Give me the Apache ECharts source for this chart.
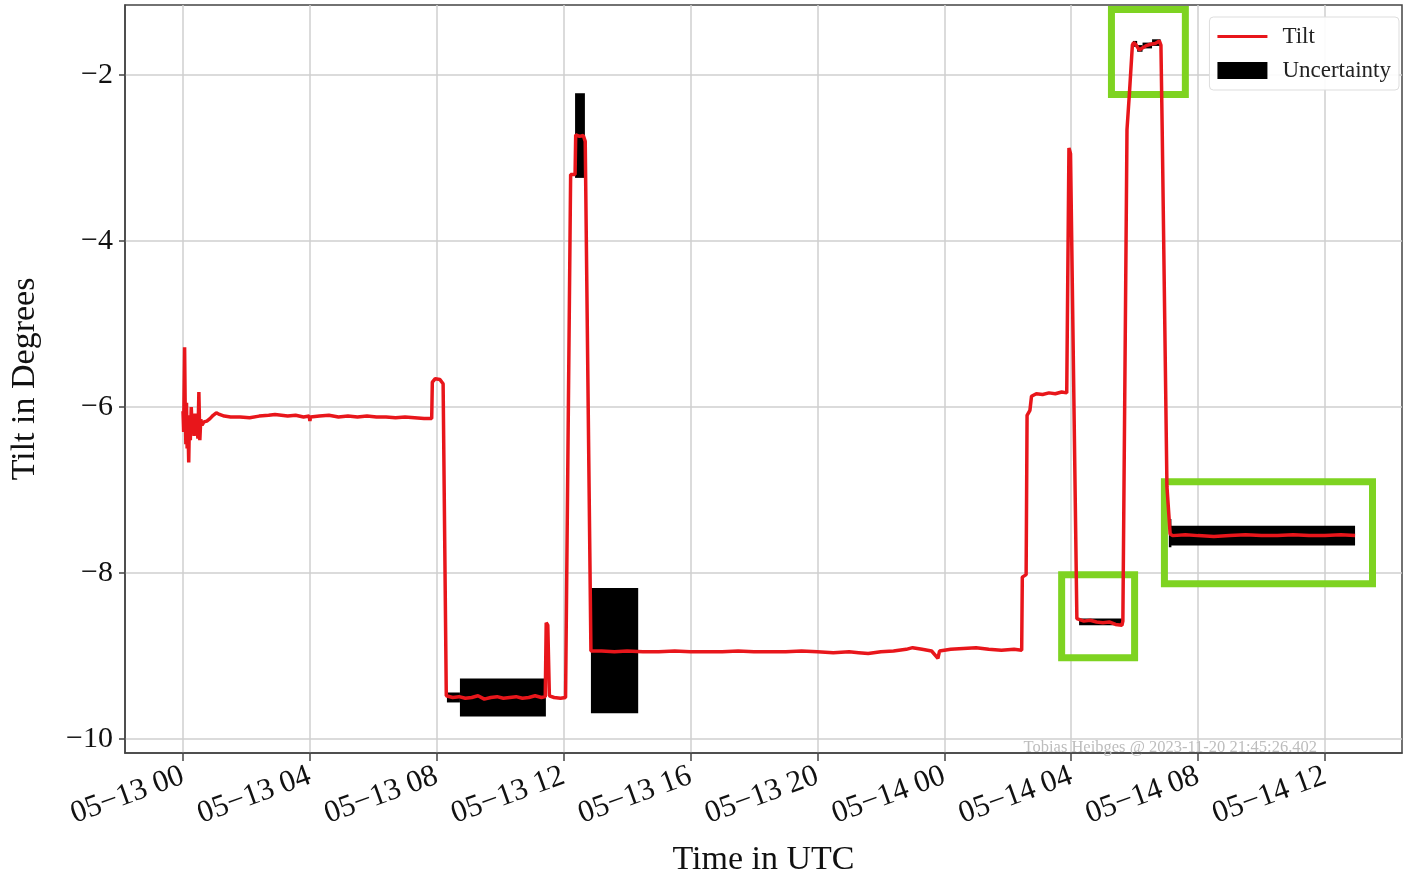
<!DOCTYPE html>
<html>
<head>
<meta charset="utf-8">
<script src="https://cdn.jsdelivr.net/npm/echarts@6/dist/echarts.min.js"></script>
<style>
  html, body { margin: 0; padding: 0; background: #fff; }
  #chart { width: 1404px; height: 877px; }
</style>
</head>
<body>
<div id="chart"></div>
<script>
// hours since 05-13 00:00 UTC
const xTicks = [0, 4, 8, 12, 16, 20, 24, 28, 32, 36];
const yTicks = [-10, -8, -6, -4, -2];

const tiltHours = [
  0.00, 0.02, 0.05, 0.07, 0.09, 0.11, 0.13, 0.15, 0.18, 0.20,
  0.23, 0.26, 0.29, 0.32, 0.35, 0.38, 0.41, 0.44, 0.47, 0.50,
  0.53, 0.56, 0.60, 0.66, 0.75, 0.85, 0.95, 1.05, 1.15, 1.30,
  1.50, 1.80, 2.10, 2.40, 2.70, 2.90, 3.10, 3.30, 3.55, 3.80,
  3.98, 4.00, 4.02, 4.30, 4.60, 4.90, 5.20, 5.50, 5.80, 6.10,
  6.40, 6.70, 7.00, 7.30, 7.60, 7.84, 7.86, 7.95, 8.10, 8.20,
  8.30, 8.50, 8.70, 8.90, 9.10, 9.30, 9.50, 9.70, 9.90, 10.10,
  10.30, 10.50, 10.70, 10.90, 11.10, 11.30, 11.42, 11.45, 11.50, 11.55,
  11.70, 11.90, 12.06, 12.22, 12.36, 12.38, 12.50, 12.62, 12.68, 12.86,
  13.20, 13.60, 14.00, 14.50, 15.00, 15.50, 16.00, 16.50, 17.00, 17.50,
  18.00, 18.50, 19.00, 19.50, 20.00, 20.50, 21.00, 21.30, 21.60, 22.00,
  22.40, 22.80, 23.00, 23.30, 23.60, 23.80, 23.85, 24.20, 24.60, 25.00,
  25.40, 25.80, 26.20, 26.44, 26.46, 26.58, 26.61, 26.70, 26.75, 26.90,
  27.10, 27.30, 27.50, 27.70, 27.86, 27.93, 27.98, 28.18, 28.40, 28.60,
  28.80, 29.00, 29.20, 29.40, 29.60, 29.63, 29.76, 29.84, 29.93, 29.97,
  30.05, 30.15, 30.22, 30.35, 30.50, 30.65, 30.78, 30.83, 30.87, 31.02,
  31.12, 31.20, 31.60, 32.00, 32.50, 33.00, 33.50, 34.00, 34.50, 35.00,
  35.50, 36.00, 36.50, 36.95
];
const tiltValues = [
  -6.05, -6.30, -5.28, -6.05, -6.45, -5.95, -6.50, -6.10, -6.67, -6.20,
  -6.40, -6.00, -6.30, -6.15, -6.35, -6.08, -6.30, -6.22, -6.38, -5.82,
  -6.40, -6.15, -6.22, -6.18, -6.17, -6.14, -6.10, -6.07, -6.09, -6.11,
  -6.12, -6.12, -6.13, -6.11, -6.10, -6.09, -6.10, -6.11, -6.10, -6.12,
  -6.11, -6.17, -6.12, -6.11, -6.10, -6.12, -6.11, -6.12, -6.11, -6.12,
  -6.12, -6.13, -6.12, -6.13, -6.14, -6.14, -5.70, -5.66, -5.67, -5.72,
  -9.48, -9.50, -9.49, -9.51, -9.50, -9.48, -9.52, -9.50, -9.49, -9.51,
  -9.50, -9.49, -9.51, -9.50, -9.48, -9.50, -9.49, -8.60, -8.63, -9.48,
  -9.50, -9.51, -9.50, -3.20, -3.20, -2.72, -2.74, -2.73, -2.80, -8.94,
  -8.94, -8.95, -8.94, -8.95, -8.95, -8.94, -8.95, -8.95, -8.95, -8.94,
  -8.95, -8.95, -8.95, -8.94, -8.95, -8.96, -8.95, -8.96, -8.97, -8.95,
  -8.94, -8.92, -8.90, -8.92, -8.94, -9.03, -8.94, -8.92, -8.91, -8.90,
  -8.92, -8.93, -8.92, -8.93, -8.05, -8.02, -6.10, -6.04, -5.87, -5.84,
  -5.85, -5.83, -5.84, -5.82, -5.83, -2.88, -2.95, -8.55, -8.58, -8.57,
  -8.59, -8.60, -8.59, -8.62, -8.63, -8.58, -2.66, -2.20, -1.64, -1.61,
  -1.64, -1.70, -1.68, -1.65, -1.63, -1.62, -1.59, -1.64, -2.66, -6.96,
  -7.53, -7.55, -7.54, -7.55, -7.56, -7.55, -7.54, -7.55, -7.55, -7.54,
  -7.55, -7.55, -7.54, -7.55
];

// uncertainty blocks: start hour, end hour, low, high
const bandStart = [8.32, 8.73, 12.36, 12.86, 28.25, 29.95, 30.08, 30.25, 30.55, 31.08, 31.12];
const bandEnd   = [8.73, 11.44, 12.67, 14.35, 29.60, 30.08, 30.25, 30.55, 30.82, 31.16, 36.95];
const bandLow   = [-9.56, -9.73, -3.24, -9.69, -8.63, -1.66, -1.72, -1.68, -1.65, -7.69, -7.67];
const bandHigh  = [-9.44, -9.27, -2.22, -8.18, -8.55, -1.59, -1.64, -1.61, -1.57, -7.35, -7.43];

// highlighted regions: [x0, x1, yTop, yBottom]
const boxX0 = [29.27, 27.70, 30.94];
const boxX1 = [31.60, 30.00, 37.50];
const boxYTop = [-1.21, -8.02, -6.90];
const boxYBot = [-2.235, -9.02, -8.13];

const tiltData = tiltHours.map((h, i) => [h, tiltValues[i]]);
const bandData = bandStart.map((s, i) => [s, bandEnd[i], bandLow[i], bandHigh[i]]);
const boxData = boxX0.map((x0, i) => [
  { coord: [x0, boxYTop[i]] },
  { coord: [boxX1[i], boxYBot[i]] }
]);

const serif = '"Liberation Serif", "DejaVu Serif", serif';
const minus = v => (Number(v) < 0 ? '\u2212' : '') + Math.abs(Number(v));

function hourLabel(v) {
  const h = Number(v);
  const day = 13 + Math.floor(h / 24);
  const hh = h % 24;
  return '05\u2212' + day + ' ' + (hh < 10 ? '0' + hh : '' + hh);
}

const chart = echarts.init(document.getElementById('chart'));

const option = {
  animation: false,
  backgroundColor: '#fff',
  title: {
    text: 'Tobias Heibges @ 2023-11-20 21:45:26.402',
    right: 82,
    top: 734,
    textStyle: { fontFamily: serif, fontSize: 16.5, fontWeight: 'normal', color: '#bdbdbd' }
  },
  grid: {
    left: 125, right: 2, top: 5, bottom: 124,
    outerBoundsMode: 'none',
    containLabel: false,
    show: true, borderColor: '#444', borderWidth: 1.5
  },
  legend: {
    right: 5, top: 17,
    orient: 'vertical',
    itemWidth: 50, itemHeight: 17, itemGap: 11,
    padding: [8, 8, 8, 8],
    borderColor: '#ddd', borderWidth: 1, borderRadius: 4,
    backgroundColor: 'rgba(255,255,255,0.9)',
    textStyle: { fontFamily: serif, fontSize: 23, color: '#222', padding: [0, 0, 0, 10] },
    data: [
      { name: 'Tilt', icon: 'path://M0,0L0,0M0,17L0,17M0,7L50,7L50,10L0,10Z' },
      { name: 'Uncertainty', icon: 'rect' }
    ]
  },
  xAxis: {
    type: 'value',
    min: -1.829, max: 38.43,
    name: 'Time in UTC',
    nameLocation: 'middle',
    nameGap: 90,
    nameTextStyle: { fontFamily: serif, fontSize: 34, color: '#111' },
    axisLine: { show: true, onZero: false, lineStyle: { color: '#444', width: 1.5 } },
    axisTick: { show: true, customValues: xTicks, length: 8, lineStyle: { color: '#444', width: 1.5 } },
    axisLabel: {
      customValues: xTicks,
      formatter: hourLabel,
      rotate: 20,
      margin: 22,
      fontFamily: serif, fontSize: 31, color: '#111'
    },
    splitLine: { show: true, lineStyle: { color: '#cfcfcf', width: 1.5 } }
  },
  yAxis: {
    type: 'value',
    min: -10.169, max: -1.157,
    name: 'Tilt in Degrees',
    nameLocation: 'middle',
    nameGap: 83,
    nameTextStyle: { fontFamily: serif, fontSize: 34, color: '#111' },
    axisLine: { show: true, onZero: false, lineStyle: { color: '#444', width: 1.5 } },
    axisTick: { show: true, customValues: yTicks, length: 6, lineStyle: { color: '#444', width: 1.5 } },
    axisLabel: {
      customValues: yTicks,
      formatter: minus,
      margin: 12,
      fontFamily: serif, fontSize: 30, color: '#111'
    },
    splitLine: { show: true, lineStyle: { color: '#cfcfcf', width: 1.5 } }
  },
  series: [
    {
      name: 'Uncertainty',
      type: 'custom',
      z: 2,
      clip: true,
      itemStyle: { color: '#000' },
      encode: { x: [0, 1], y: [2, 3] },
      data: bandData,
      renderItem: function (params, api) {
        const p0 = api.coord([api.value(0), api.value(3)]);
        const p1 = api.coord([api.value(1), api.value(2)]);
        return {
          type: 'rect',
          shape: { x: p0[0], y: p0[1], width: p1[0] - p0[0], height: p1[1] - p0[1] },
          style: { fill: '#000' }
        };
      }
    },
    {
      name: 'Tilt',
      type: 'line',
      z: 3,
      symbol: 'none',
      lineStyle: { color: '#e8161b', width: 3.5 },
      itemStyle: { color: '#e8161b' },
      data: tiltData
    },
    {
      name: 'highlight',
      type: 'line',
      z: 10,
      data: [],
      markArea: {
        silent: true,
        itemStyle: { color: 'rgba(0,0,0,0)', borderColor: '#7ed321', borderWidth: 7 },
        data: boxData
      }
    }
  ]
};

chart.setOption(option);
</script>
</body>
</html>
